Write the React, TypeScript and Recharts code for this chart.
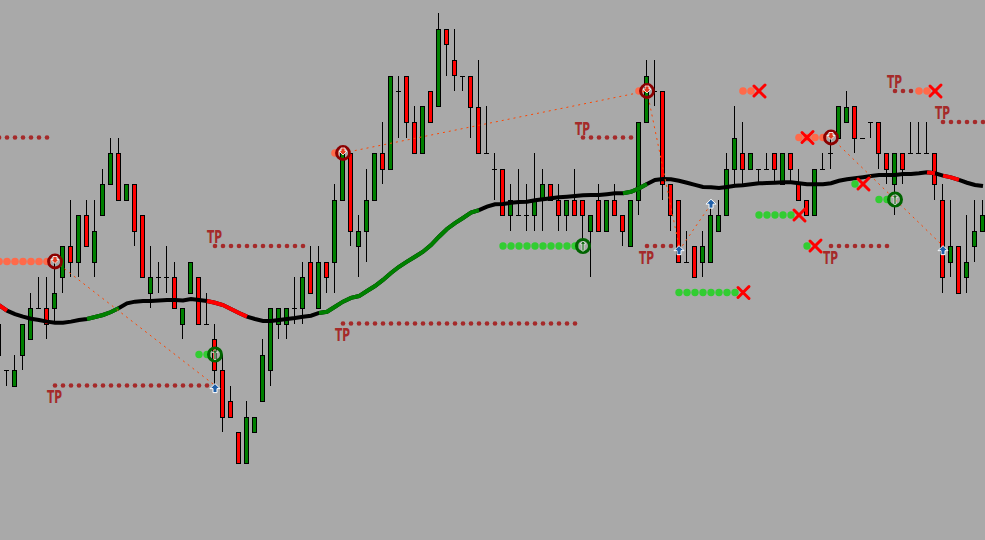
import React from 'react';
import { ComposedChart, Bar, Line, XAxis, YAxis } from 'recharts';

// prices are counted in feed steps (one step = one brick of the quote grid)
const opens = [
  9, 6, 5, 7, 8, 10, 10, 10, 12, 14, 13, 16, 13, 16, 18, 20, 17, 18, 16, 11,
  12, 12, 12, 9, 11, 12, 9, 8, 6, 4, 2, 0, 2, 4, 6, 9, 9, 10, 10, 13,
  10, 13, 13, 17, 20, 14, 15, 17, 20, 19, 24, 25, 22, 20, 24, 23, 28, 26, 25, 25,
  23, 20, 19, 19, 16, 16, 16, 16, 17, 18, 17, 16, 17, 17, 15, 17, 15, 17, 16, 14,
  17, 22, 24, 24, 18, 17, 13, 14, 13, 13, 15, 16, 19, 20, 19, 19, 19, 20, 18, 20,
  18, 17, 16, 19, 20, 21, 22, 23, 21, 22, 22, 20, 18, 20, 20, 20, 20, 20, 17, 13,
  14, 12, 14, 15,
];
const highs = [
  9, 6, 7, 9, 11, 12, 12, 13, 14, 17, 16, 17, 17, 19, 21, 21, 18, 18, 16, 14,
  13, 14, 13, 10, 13, 12, 11, 9, 7, 5, 2, 4, 3, 8, 10, 10, 10, 12, 13, 14,
  14, 13, 18, 20, 20, 16, 19, 20, 22, 25, 25, 25, 23, 23, 24, 29, 28, 28, 25, 25,
  26, 23, 20, 19, 18, 19, 18, 20, 19, 18, 18, 17, 19, 17, 16, 18, 17, 18, 16, 17,
  22, 26, 26, 24, 18, 17, 15, 14, 15, 17, 17, 20, 23, 22, 20, 19, 20, 20, 20, 20,
  19, 17, 19, 20, 21, 23, 24, 23, 21, 22, 22, 20, 20, 20, 22, 22, 22, 20, 18, 17,
  14, 16, 17, 17,
];
const lows = [
  7, 5, 5, 6, 8, 10, 8, 9, 11, 12, 12, 14, 12, 16, 18, 17, 17, 14, 12, 10,
  11, 11, 10, 8, 11, 9, 9, 5, 2, 3, 0, 0, 2, 4, 5, 8, 8, 9, 9, 11,
  10, 11, 11, 17, 14, 12, 13, 17, 18, 19, 21, 21, 20, 20, 22, 23, 25, 24, 24, 21,
  20, 20, 17, 16, 15, 16, 15, 15, 15, 17, 15, 15, 16, 14, 12, 15, 15, 16, 14, 14,
  16, 22, 23, 17, 15, 13, 13, 12, 12, 13, 15, 16, 18, 18, 19, 18, 19, 18, 18, 18,
  17, 16, 16, 19, 19, 21, 22, 20, 21, 21, 19, 18, 16, 18, 20, 20, 20, 17, 11, 12,
  11, 11, 13, 15,
];
const closes = [
  7, 6, 6, 9, 10, 10, 9, 11, 14, 13, 16, 14, 15, 18, 20, 17, 18, 15, 12, 12,
  12, 12, 10, 10, 13, 9, 9, 6, 3, 3, 0, 3, 3, 7, 10, 10, 10, 10, 12, 11,
  13, 12, 17, 20, 15, 15, 17, 20, 19, 25, 24, 22, 20, 23, 22, 28, 27, 25, 25, 23,
  20, 20, 19, 16, 17, 16, 16, 17, 18, 17, 16, 17, 16, 16, 16, 15, 17, 16, 15, 17,
  22, 25, 24, 18, 16, 13, 13, 12, 14, 16, 16, 19, 21, 19, 20, 19, 19, 19, 20, 19,
  17, 16, 19, 19, 20, 23, 23, 21, 21, 22, 20, 19, 20, 19, 20, 20, 20, 18, 12, 14,
  11, 13, 15, 16,
];

// smoothed trend line
const maValues = [
  10.19, 9.83, 9.61, 9.44, 9.31, 9.23, 9.12, 9.05, 9.05, 9.12,
  9.23, 9.29, 9.42, 9.55, 9.74, 10.0, 10.3, 10.41, 10.45, 10.45,
  10.48, 10.52, 10.52, 10.48, 10.58, 10.52, 10.45, 10.34, 10.19, 9.94,
  9.68, 9.44, 9.29, 9.16, 9.16, 9.23, 9.29, 9.35, 9.44, 9.5,
  9.68, 9.76, 10.08, 10.41, 10.65, 10.77, 11.1, 11.42, 11.81, 12.26,
  12.66, 12.99, 13.31, 13.63, 14.06, 14.6, 15.1, 15.48, 15.81, 16.15,
  16.32, 16.54, 16.69, 16.71, 16.79, 16.84, 16.86, 16.95, 17.01, 17.08,
  17.14, 17.18, 17.23, 17.27, 17.29, 17.29, 17.34, 17.4, 17.4, 17.5,
  17.72, 18.0, 18.26, 18.32, 18.3, 18.21, 18.08, 17.94, 17.81, 17.79,
  17.74, 17.81, 17.89, 17.92, 17.98, 18.05, 18.06, 18.08, 18.11, 18.11,
  18.05, 17.98, 17.98, 17.98, 18.05, 18.21, 18.3, 18.37, 18.44, 18.52,
  18.58, 18.58, 18.58, 18.65, 18.65, 18.69, 18.75, 18.69, 18.54, 18.43,
  18.26, 18.08, 17.94, 17.87,
];
// bar ranges where the trend line turns up (green) or down (red)
const maUpRanges = [[11, 15], [40, 60], [78, 81]];
const maDownRanges = [[0, 1], [26, 31], [116, 117], [118, 120]];

// take-profit levels: [fromBar, toBar, level]
const tpLevels = [
  [0, 6, 21], [7, 26, 5], [27, 38, 14], [43, 72, 9], [73, 79, 21],
  [81, 84, 14], [104, 111, 14], [112, 117, 24], [118, 123, 22],
];
// "TP" captions: [bar, level, side] (-1 above the level, 1 below)
const tpCaptions = [
  [7, 5, 1], [27, 14, -1], [43, 9, 1], [73, 21, -1],
  [81, 14, 1], [104, 14, 1], [112, 24, -1], [118, 22, -1],
];
// trailing stop dots: [fromBar, toBar, level]
const buyTrails = [[25, 26, 7], [63, 72, 14], [85, 92, 11], [95, 99, 16], [101, 101, 14], [107, 107, 18], [110, 111, 17]];
const sellTrails = [[0, 6, 13], [42, 42, 20], [80, 80, 24], [93, 94, 24], [100, 103, 21], [115, 116, 24]];
// entries, exits and reached targets: [bar, level]
const buySignals = [[27, 7], [73, 14], [112, 17]];
const sellSignals = [[7, 13], [43, 20], [81, 24], [104, 21]];
const stopOuts = [[93, 11], [95, 24], [100, 16], [101, 21], [102, 14], [108, 18], [117, 24]];
const targetHits = [[27, 4.8], [85, 13.7], [89, 16.7], [118, 13.7]];
// trade connectors: [fromBar, fromLevel, toBar, toLevel]
const tradeLinks = [[7, 13, 27, 5], [43, 20, 81, 24], [81, 24, 85, 14], [85, 13.7, 89, 16.7], [104, 21, 118, 14]];

const Y_MAX = 463 / 15.5;
const Y_MIN = Y_MAX - 540 / 15.5;

const data: any[] = opens.map((o, i) => ({
  i, o, h: highs[i], l: lows[i], c: closes[i],
  range: [lows[i], highs[i]],
  ma: maValues[i],
  tp: null, tpCap: null, tpSide: 0,
  buyTrail: null, sellTrail: null,
  buySig: null, sellSig: null, stop: null, hit: null,
}));
maUpRanges.forEach(([a, b], n) => { for (let k = a; k <= b; k++) data[k][`up${n}`] = maValues[k]; });
maDownRanges.forEach(([a, b], n) => { for (let k = a; k <= b; k++) data[k][`down${n}`] = maValues[k]; });
tpLevels.forEach(([a, b, v]) => { for (let k = a; k <= b; k++) data[k].tp = v; });
tpCaptions.forEach(([k, v, s]) => { data[k].tpCap = v; data[k].tpSide = s; });
buyTrails.forEach(([a, b, v]) => { for (let k = a; k <= b; k++) data[k].buyTrail = v; });
sellTrails.forEach(([a, b, v]) => { for (let k = a; k <= b; k++) data[k].sellTrail = v; });
buySignals.forEach(([k, v]) => { data[k].buySig = v; });
sellSignals.forEach(([k, v]) => { data[k].sellSig = v; });
stopOuts.forEach(([k, v]) => { data[k].stop = v; });
targetHits.forEach(([k, v]) => { data[k].hit = v; });
tradeLinks.forEach(([a, va, b, vb], n) => {
  data[a][`link${n}`] = va;
  data[b][`link${n}`] = vb;
});

const Candle = (props: any) => {
  const { x, y, width, height, payload } = props;
  const { o, h, l, c } = payload;
  const top = height < 0 ? y + height : y;
  const span = Math.abs(height);
  const unit = h === l ? 0 : span / (h - l);
  const yOf = (v: number) => Math.round(top + (h - v) * unit);
  const cx = Math.round(x + width / 2);
  const up = c > o;
  const bodyTop = yOf(Math.max(o, c));
  const bodyBottom = yOf(Math.min(o, c));
  return (
    <g>
      <rect x={cx - 1} y={yOf(h)} width={1} height={Math.max(yOf(l) - yOf(h), 0)} fill="#000" />
      {o === c ? (
        <rect x={cx - 3} y={bodyTop} width={5} height={1} fill="#000" />
      ) : (
        <>
          <rect x={cx - 3} y={bodyTop} width={5} height={bodyBottom - bodyTop + 1} fill="#000" />
          <rect x={cx - 2} y={bodyTop + 1} width={3} height={Math.max(bodyBottom - bodyTop - 1, 0)} fill={up ? '#008000' : '#FF0000'} />
        </>
      )}
    </g>
  );
};

const marker = (draw: (cx: number, cy: number, p: any) => React.ReactNode) => (props: any) => {
  const { cx, cy, value, index, payload } = props;
  if (value == null || cx == null || cy == null) return <g key={index} />;
  return <g key={index}>{draw(cx, cy, payload)}</g>;
};

const tpDot = marker((cx, cy) => <circle cx={cx} cy={cy} r={2.3} fill="#A52A2A" />);
const buyDot = marker((cx, cy) => <circle cx={cx} cy={cy} r={3.7} fill="#32CD32" />);
const sellDot = marker((cx, cy) => <circle cx={cx} cy={cy} r={3.8} fill="#FF6A4A" />);
const tpText = marker((cx, cy, p) => (
  <text
    x={cx - 0.5}
    y={p.tpSide < 0 ? cy - 3 : cy + 17.5}
    textAnchor="middle"
    fontFamily="'Liberation Sans Narrow', 'DejaVu Sans Condensed', sans-serif"
    fontWeight="bold"
    fontSize={17}
    textLength={15}
    lengthAdjust="spacingAndGlyphs"
    fill="#A52A2A"
  >
    TP
  </text>
));
const sellRing = marker((cx, cy) => (
  <>
    <circle cx={cx} cy={cy} r={6.5} fill="none" stroke="#8B0000" strokeWidth={2.8} />
    <path d={`M${cx - 2} ${cy - 5} h4 v3 h2 l-4 4 l-4 -4 h2 z`} fill="#E23A1E" stroke="#fff" strokeWidth={0.8} />
  </>
));
const buyRing = marker((cx, cy) => (
  <>
    <circle cx={cx} cy={cy} r={6.5} fill="none" stroke="#006400" strokeWidth={3} />
    <path d={`M${cx} ${cy - 5} l3 3 h-2 v7 h-2 v-7 h-2 z`} fill="#1E6E1E" stroke="#E8F0E8" strokeWidth={0.7} />
  </>
));
const cross = marker((cx, cy) => (
  <g stroke="#FF0000" strokeWidth={3} strokeLinecap="round">
    <line x1={cx - 5} y1={cy - 5} x2={cx + 6} y2={cy + 6} />
    <line x1={cx + 6} y1={cy - 6} x2={cx - 5} y2={cy + 5} />
  </g>
));
const upArrow = marker((cx, cy) => (
  <path
    d={`M${cx} ${cy - 5} L${cx + 5} ${cy} L${cx + 2} ${cy} L${cx + 2} ${cy + 4} L${cx - 2} ${cy + 4} L${cx - 2} ${cy} L${cx - 5} ${cy} Z`}
    fill="#1F5FA8"
    stroke="#fff"
    strokeWidth={1}
  />
));

const markerLine = (key: string, dot: any) => (
  <Line
    key={key}
    dataKey={key}
    stroke="none"
    strokeWidth={0}
    dot={dot}
    activeDot={false}
    isAnimationActive={false}
    legendType="none"
  />
);

const trendPiece = (key: string, color: string) => (
  <Line
    key={key}
    type="linear"
    dataKey={key}
    stroke={color}
    strokeWidth={4}
    dot={false}
    activeDot={false}
    isAnimationActive={false}
  />
);

export default function App() {
  return (
    <div style={{ position: 'fixed', left: 0, top: 0, width: 985, height: 540, overflow: 'hidden', background: '#A9A9A9' }}>
      <div style={{ position: 'absolute', left: -5, top: 0 }}>
        <ComposedChart width={992} height={540} data={data} margin={{ top: 0, right: 0, bottom: 0, left: 0 }}>
          <XAxis dataKey="i" type="category" hide />
          <YAxis type="number" domain={[Y_MIN, Y_MAX]} allowDataOverflow hide />
          <Bar dataKey="range" shape={<Candle />} isAnimationActive={false} />
          {trendPiece('ma', '#000')}
          {maUpRanges.map((_, n) => trendPiece(`up${n}`, '#008000'))}
          {maDownRanges.map((_, n) => trendPiece(`down${n}`, '#FF0000'))}
          {tradeLinks.map((_, n) => (
            <Line
              key={`link${n}`}
              type="linear"
              dataKey={`link${n}`}
              connectNulls
              stroke="#FF4500"
              strokeWidth={1}
              strokeDasharray="2 4"
              dot={false}
              activeDot={false}
              isAnimationActive={false}
            />
          ))}
          {markerLine('tp', tpDot)}
          {markerLine('tpCap', tpText)}
          {markerLine('buyTrail', buyDot)}
          {markerLine('sellTrail', sellDot)}
          {markerLine('sellSig', sellRing)}
          {markerLine('buySig', buyRing)}
          {markerLine('stop', cross)}
          {markerLine('hit', upArrow)}
        </ComposedChart>
      </div>
    </div>
  );
}
